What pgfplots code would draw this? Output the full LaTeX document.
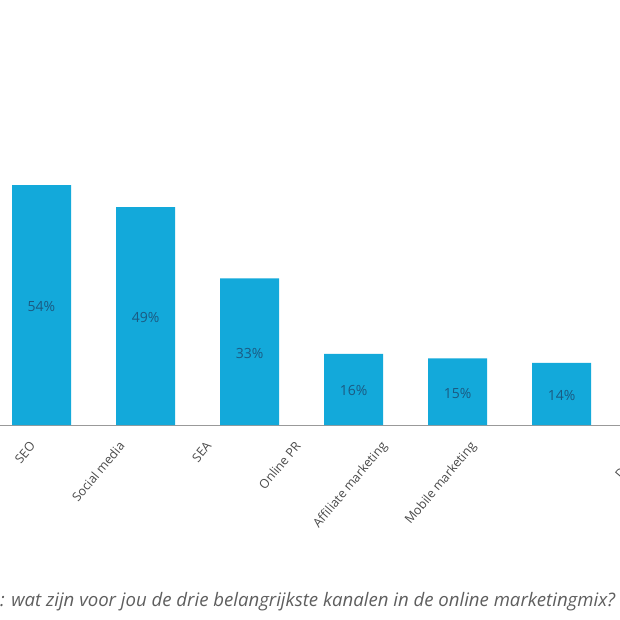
\documentclass[border=0pt]{standalone}
\usepackage{pgfplots}
\pgfplotsset{compat=1.18}
\usepackage{fontspec}
\setmainfont{Open Sans}
\definecolor{barblue}{HTML}{13A9DA}
\definecolor{lbl}{HTML}{1B5A82}
\definecolor{capgray}{HTML}{5E5E5E}
\definecolor{ticklbl}{HTML}{4A4A4A}
\begin{document}
\begin{tikzpicture}[x=1pt,y=1pt]
\begin{axis}[
  scale only axis, width=728pt, height=425pt,
  xmin=-0.399, xmax=6.6, ymin=0, ymax=95.63,
  axis x line=bottom, axis y line=none,
  x axis line style={draw=gray!80, line width=0.8pt, -},
  xtick={-0.043,0.8125,1.649,2.505,3.332,4.188,5.84},
  xticklabels={SEO, Social media, SEA, Online PR, Affiliate marketing, Mobile marketing, Display},
  xtick style={draw=none},
  xticklabel style={yshift=-11pt, xshift=-8pt, rotate=50, anchor=north east, inner sep=0pt, font=\fontsize{12.5}{14}\selectfont, text=ticklbl},
  ytick=\empty,
  ybar, bar width=59pt,
  clip=false,
  /pgf/number format/assume math mode=true,
  visualization depends on=rawy \as \rawy,
  nodes near coords={\pgfmathprintnumber{\pgfplotspointmeta}\%},
  nodes near coords style={anchor=center, yshift={-2.2222*\rawy-1.5}, font=\fontsize{14}{16}\selectfont, text=lbl},
]
\addplot[fill=barblue, draw=none] coordinates {(0,54) (1,49) (2,33) (3,16) (4,15) (5,14) (6,12)};
\coordinate (O) at (axis cs:-0.399,0);
\end{axis}
\pgfresetboundingbox
\path[use as bounding box] ([yshift=-195pt]O) rectangle ([xshift=620pt,yshift=425pt]O);
\node[anchor=base west, inner sep=0pt, font=\fontsize{18.6}{20}\selectfont\itshape, text=capgray] at ([xshift=0pt,yshift=-181pt]O) {: wat zijn voor jou de drie belangrijkste kanalen in de online marketingmix?};
\end{tikzpicture}
\end{document}
